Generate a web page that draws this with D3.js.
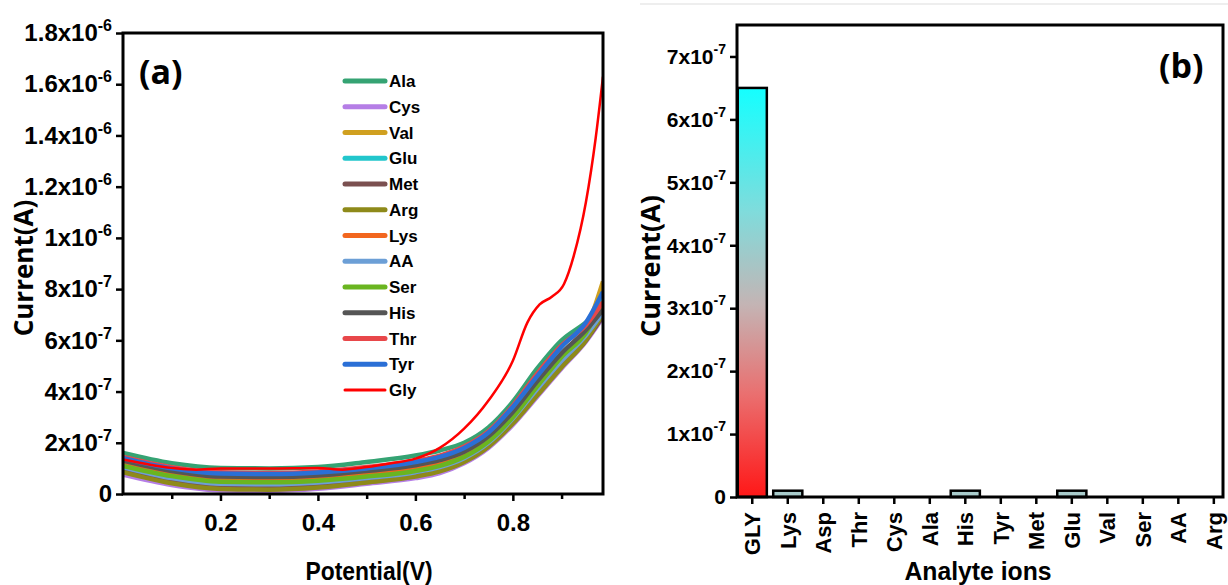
<!DOCTYPE html>
<html>
<head>
<meta charset="utf-8">
<script src="https://cdn.jsdelivr.net/npm/d3@7"></script>
<style>
body { margin: 0; background: #fff; }
svg { display: block; }
text { font-family: "Liberation Sans", Arial, sans-serif; font-weight: bold; fill: #000; }
.wide { font-family: "Open Sans", "Liberation Sans", sans-serif; }
</style>
</head>
<body>
<svg id="svg_canvas" width="1228" height="585"></svg>
<script>
// panel (a): current in units of 1e-7 A
var potential = [0.0, 0.1, 0.2, 0.3, 0.4, 0.5, 0.6, 0.65, 0.7, 0.75, 0.8, 0.85, 0.9, 0.95, 0.985];
var seriesNames = ["Ala", "Cys", "Val", "Glu", "Met", "Arg", "Lys", "AA", "Ser", "His", "Thr", "Tyr", "Gly"];
var seriesColors = ["#35a373", "#b57ee6", "#d0a020", "#22c6cc", "#7b5050", "#8e8a1a", "#f2661e", "#6c9fd6", "#6ab520", "#555555", "#e8474a", "#2a6fd6", "#ff0000"];

var ala = [1.60, 1.20, 1.02, 1.00, 1.05, 1.25, 1.50, 1.70, 2.00, 2.60, 3.60, 4.90, 6.00, 6.70, 7.30];
var cys = [0.75, 0.35, 0.14, 0.12, 0.20, 0.40, 0.62, 0.82, 1.20, 1.80, 2.70, 3.80, 4.90, 5.95, 6.90];
var val = [0.95, 0.55, 0.33, 0.30, 0.37, 0.55, 0.80, 1.05, 1.55, 2.25, 3.10, 4.10, 5.20, 6.40, 8.30];
var glu = [1.15, 0.75, 0.52, 0.50, 0.56, 0.72, 0.95, 1.15, 1.50, 2.10, 3.05, 4.25, 5.40, 6.40, 7.60];
var met = [0.90, 0.48, 0.25, 0.22, 0.30, 0.48, 0.72, 0.92, 1.30, 1.90, 2.85, 3.95, 5.00, 6.00, 6.95];
var arg = [0.85, 0.42, 0.20, 0.17, 0.25, 0.45, 0.68, 0.88, 1.25, 1.85, 2.75, 3.85, 4.95, 6.00, 7.05];
var lys = [1.25, 0.85, 0.62, 0.60, 0.66, 0.82, 1.05, 1.25, 1.60, 2.20, 3.15, 4.35, 5.45, 6.40, 7.40];
var aa  = [1.05, 0.62, 0.40, 0.38, 0.45, 0.62, 0.85, 1.05, 1.40, 2.00, 2.95, 4.10, 5.20, 6.20, 7.10];
var ser = [1.10, 0.70, 0.48, 0.46, 0.52, 0.68, 0.90, 1.10, 1.45, 2.05, 3.00, 4.20, 5.35, 6.30, 7.50];
var his = [1.30, 0.90, 0.68, 0.66, 0.72, 0.90, 1.12, 1.32, 1.65, 2.25, 3.20, 4.40, 5.50, 6.40, 7.20];
var thr = [1.45, 1.05, 0.85, 0.82, 0.88, 1.05, 1.30, 1.50, 1.85, 2.45, 3.45, 4.70, 5.80, 6.60, 7.50];
var tyr = [1.40, 1.00, 0.80, 0.78, 0.84, 1.00, 1.25, 1.45, 1.80, 2.40, 3.40, 4.60, 5.75, 6.70, 7.90];

// Gly has its own, finer potential grid
var glyPotential = [0.0, 0.1, 0.15, 0.2, 0.3, 0.4, 0.45, 0.5, 0.55, 0.6, 0.65, 0.7, 0.75, 0.8, 0.83, 0.855, 0.88, 0.905, 0.925, 0.95, 0.97, 0.985];
var gly = [1.35, 1.02, 0.95, 1.00, 1.00, 1.02, 0.95, 1.05, 1.20, 1.38, 1.80, 2.55, 3.65, 5.20, 6.70, 7.40, 7.70, 8.20, 9.30, 11.4, 13.9, 16.3];

var yTicksA = [0, 2, 4, 6, 8, 10, 12, 14, 16, 18];

// panel (b)
var analytes = ["GLY", "Lys", "Asp", "Thr", "Cys", "Ala", "His", "Tyr", "Met", "Glu", "Val", "Ser", "AA", "Arg"];
var analyteCurrent = [6.5, 0.1, 0, 0, 0, 0, 0.1, 0, 0, 0.1, 0, 0, 0, 0]; // 1e-7 A
var yTicksB = [0, 1, 2, 3, 4, 5, 6, 7];

var svg = d3.select("#svg_canvas");

// superscript tick label like 1.8x10^-6
var expLabel = function(sel, v, supSize){
	sel.text("");
	if (v === 0) { sel.text("0"); return; }
	var m, e;
	if (v >= 10) { m = v / 10; e = -6; } else { m = v; e = -7; }
	sel.append("tspan").text((Math.round(m * 10) / 10) + "x10");
	sel.append("tspan").attr("dy", -10).attr("font-size", supSize).text(e);
};

// ---------- panel (a) ----------
var xA = d3.scaleLinear().domain([0, 0.985]).range([123, 603]);
var yA = d3.scaleLinear().domain([0, 18]).range([494, 33]);

var allSeries = [ala, cys, val, glu, met, arg, lys, aa, ser, his, thr, tyr];

var line = d3.line()
	.x(function(d){ return xA(d[0]); })
	.y(function(d){ return yA(d[1]); })
	.curve(d3.curveMonotoneX);

var gA = svg.append("g");
gA.append("defs").append("clipPath").attr("id", "clipA")
	.append("rect").attr("x", 123).attr("y", 33).attr("width", 480).attr("height", 461);

var curves = gA.append("g").attr("clip-path", "url(#clipA)");
allSeries.forEach(function(s, i){
	curves.append("path")
		.attr("d", line(d3.zip(potential, s)))
		.attr("fill", "none")
		.attr("stroke", seriesColors[i])
		.attr("stroke-width", 4.5)
		.attr("stroke-linejoin", "round");
});
curves.append("path")
	.attr("d", line(d3.zip(glyPotential, gly)))
	.attr("fill", "none")
	.attr("stroke", seriesColors[12])
	.attr("stroke-width", 2.5);

// axes
var axA = gA.append("g").attr("transform", "translate(0,494)")
	.call(d3.axisBottom(xA).tickValues([0.2, 0.4, 0.6, 0.8]).tickSize(7).tickPadding(13).tickFormat(d3.format(".1f")));
gA.append("g").attr("transform", "translate(0,494)")
	.call(d3.axisBottom(xA).tickValues([0.1, 0.3, 0.5, 0.7, 0.9]).tickSize(5).tickFormat(""));
var ayA = gA.append("g").attr("transform", "translate(123,0)")
	.call(d3.axisLeft(yA).tickValues(yTicksA).tickSize(7).tickPadding(4));
ayA.selectAll(".tick text").each(function(d){ expLabel(d3.select(this), d, "16px"); });

[axA, ayA].forEach(function(a){ a.selectAll(".tick text").attr("font-size", "24px"); });
gA.selectAll(".domain").remove();
gA.selectAll(".tick line").attr("stroke", "#000").attr("stroke-width", 2.5);

gA.append("rect").attr("x", 123).attr("y", 33).attr("width", 480).attr("height", 461)
	.attr("fill", "none").attr("stroke", "#000").attr("stroke-width", 3);

gA.append("text").attr("x", 369).attr("y", 580).attr("text-anchor", "middle").attr("font-size", "25px")
	.attr("textLength", 127).attr("lengthAdjust", "spacingAndGlyphs").text("Potential(V)");
gA.append("text").attr("class", "wide").attr("transform", "translate(33,268) rotate(-90)")
	.attr("text-anchor", "middle").attr("font-size", "26px").text("Current(A)");
gA.append("text").attr("class", "wide").attr("x", 139).attr("y", 84).attr("font-size", "34px").text("(a)");

// legend
var legend = gA.selectAll(".legend").data(seriesNames).enter().append("g")
	.attr("transform", function(d, i){ return "translate(345," + (81 + i * 25.75) + ")"; });
legend.append("line").attr("x1", 0).attr("x2", 40)
	.attr("stroke", function(d, i){ return seriesColors[i]; })
	.attr("stroke-width", function(d, i){ return i === 12 ? 3 : 5; })
	.attr("stroke-linecap", "round");
legend.append("text").attr("x", 44).attr("y", 6).attr("font-size", "17px").text(function(d){ return d; });

// ---------- panel (b) ----------
var xB = d3.scaleBand().domain(analytes).range([737, 737 + 14 * 35.15]).paddingInner(0.18).paddingOuter(0.02);
var yB = d3.scaleLinear().domain([0, 7.5]).range([497, 25]);

var gB = svg.append("g");
gB.append("line").attr("x1", 640).attr("x2", 1228).attr("y1", 4).attr("y2", 4).attr("stroke", "#eee").attr("stroke-width", 2);

var grad = gB.append("defs").append("linearGradient").attr("id", "barGrad")
	.attr("x1", 0).attr("y1", 1).attr("x2", 0).attr("y2", 0);
grad.append("stop").attr("offset", "0%").attr("stop-color", "#ff1717");
grad.append("stop").attr("offset", "25%").attr("stop-color", "#ea6f6f");
grad.append("stop").attr("offset", "47%").attr("stop-color", "#c4b4b4");
grad.append("stop").attr("offset", "70%").attr("stop-color", "#7fdcdc");
grad.append("stop").attr("offset", "100%").attr("stop-color", "#14ffff");

gB.selectAll(".bar").data(analyteCurrent).enter().append("rect")
	.attr("x", function(d, i){ return xB(analytes[i]); })
	.attr("y", function(d){ return yB(d); })
	.attr("width", xB.bandwidth())
	.attr("height", function(d){ return yB(0) - yB(d); })
	.attr("fill", function(d){ return d > 1 ? "url(#barGrad)" : "#a9cccc"; })
	.attr("stroke", "#000")
	.attr("stroke-width", function(d){ return d > 0 ? 2.5 : 0; });

var axB = gB.append("g").attr("transform", "translate(0,497)")
	.call(d3.axisBottom(xB).tickSize(7).tickPadding(6));
axB.selectAll(".tick text")
	.attr("transform", "rotate(-90)")
	.attr("text-anchor", "end")
	.attr("x", -15).attr("y", 0).attr("dy", "0.36em")
	.attr("font-size", "22px");
var ayB = gB.append("g").attr("transform", "translate(737,0)")
	.call(d3.axisLeft(yB).tickValues(yTicksB).tickSize(7).tickPadding(4));
ayB.selectAll(".tick text").attr("font-size", "21px").each(function(d){ expLabel(d3.select(this), d, "14px"); });
gB.selectAll(".domain").remove();
gB.selectAll(".tick line").attr("stroke", "#000").attr("stroke-width", 2.5);

gB.append("rect").attr("x", 737).attr("y", 25).attr("width", 486).attr("height", 472)
	.attr("fill", "none").attr("stroke", "#000").attr("stroke-width", 3);

gB.append("text").attr("x", 978).attr("y", 580).attr("text-anchor", "middle").attr("font-size", "26px")
	.attr("textLength", 147).attr("lengthAdjust", "spacingAndGlyphs").text("Analyte ions");
gB.append("text").attr("class", "wide").attr("transform", "translate(660,266) rotate(-90)")
	.attr("text-anchor", "middle").attr("font-size", "27px").text("Current(A)");
gB.append("text").attr("class", "wide").attr("x", 1159).attr("y", 78).attr("font-size", "34px").text("(b)");
</script>
</body>
</html>
